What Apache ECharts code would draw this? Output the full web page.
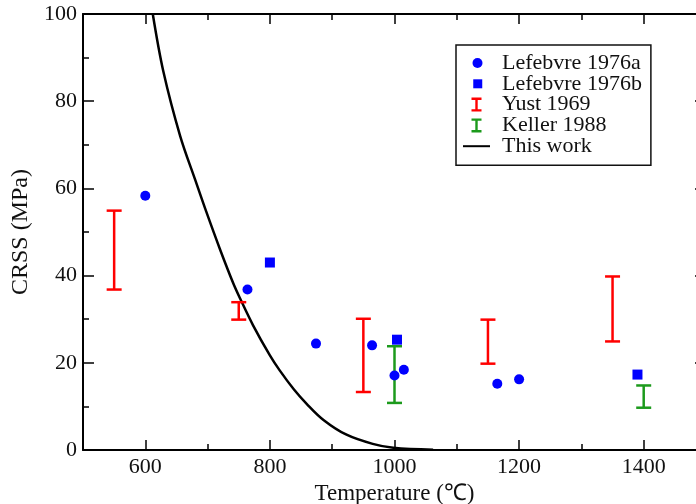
<!DOCTYPE html>
<html>
<head>
<meta charset="utf-8">
<script src="https://cdn.jsdelivr.net/npm/echarts@6/dist/echarts.min.js"></script>
<style>
  html, body { margin: 0; padding: 0; background: #fff; }
  #chart { width: 696px; height: 504px; }
</style>
</head>
<body>
<div id="chart"></div>
<script>
// Lefebvre 1976a (circles)
const lefA_T = [600, 764, 874, 964, 1000, 1015, 1165, 1200];
const lefA_V = [58.3, 36.8, 24.4, 24.0, 17.1, 18.4, 15.2, 16.2];
// Lefebvre 1976b (squares)
const lefB_T = [800, 1004, 1390];
const lefB_V = [43.0, 25.3, 17.3];
// Yust 1969 ranges
const yust_T = [550, 750, 950, 1150, 1350];
const yust_lo = [36.8, 29.9, 13.3, 19.8, 24.9];
const yust_hi = [54.9, 33.9, 30.1, 29.9, 39.8];
// Keller 1988 ranges
const keller_T = [1000, 1400];
const keller_lo = [10.8, 9.7];
const keller_hi = [23.8, 14.8];
// This work (model curve)
const curve_T = [612, 629, 656, 680, 698, 720, 741, 752, 773, 800, 816, 838, 859, 886, 923, 965, 998, 1062];
const curve_V = [100, 86.8, 72, 62, 54.6, 46, 38.3, 34.8, 28.6, 21.7, 18.2, 14.0, 10.6, 6.9, 3.5, 1.4, 0.5, 0.05];

const xMajor = [600, 800, 1000, 1200, 1400];
const xMinor = [700, 900, 1100, 1300];

const FONT = 'Liberation Serif';
const BLUE = '#0000ff', RED = '#ff0000', GREEN = '#1c9a1c';

const chart = echarts.init(document.getElementById('chart'), null, { renderer: 'canvas' });

function errorBar(params, api) {
  const x = api.value(0);
  const lo = api.coord([x, api.value(1)]);
  const hi = api.coord([x, api.value(2)]);
  const hw = 7.5;
  const style = { stroke: api.visual('color'), lineWidth: 2.5 };
  return {
    type: 'group',
    children: [
      { type: 'line', shape: { x1: lo[0], y1: lo[1], x2: hi[0], y2: hi[1] }, style },
      { type: 'line', shape: { x1: lo[0] - hw, y1: lo[1], x2: lo[0] + hw, y2: lo[1] }, style },
      { type: 'line', shape: { x1: hi[0] - hw, y1: hi[1], x2: hi[0] + hw, y2: hi[1] }, style }
    ]
  };
}

// legend icons, all in a 14-high box so sizes stay fixed
const iconDot = 'path://M0,0 M0,14 M2,7 A5,5 0 1,1 12,7 A5,5 0 1,1 2,7 Z';
const iconSquare = 'path://M0,0 M0,14 M2.5,2.5 H11.5 V11.5 H2.5 Z';
const iconBeam = 'path://M0,0 H10 V2.4 H6.2 V11.6 H10 V14 H0 V11.6 H3.8 V2.4 H0 Z';
const iconLine = 'path://M0,0 M0,14 M0,6 H27 V8 H0 Z';

const baseX = {
  type: 'value', min: 500, max: 1500, gridIndex: 0,
  splitLine: { show: false }
};
const baseY = {
  type: 'value', min: 0, max: 100, interval: 20,
  splitLine: { show: false }
};
const lineStyle = { color: '#000', width: 2 };
const tickStyle = { color: '#000', width: 1.5 };

chart.setOption({
  animation: false,
  backgroundColor: '#fff',
  textStyle: { fontFamily: FONT },
  grid: { left: 83, right: -10, top: 14, bottom: 54, containLabel: false, outerBoundsMode: 'none' },
  legend: {
    orient: 'vertical',
    left: 456, top: 45,
    padding: [7, 9, 8, 7],
    itemGap: -1.2,
    itemWidth: 27, itemHeight: 14,
    borderColor: '#111', borderWidth: 1.5,
    backgroundColor: '#fff',
    textStyle: { fontFamily: FONT, fontSize: 22, color: '#111', lineHeight: 21, padding: [0, 0, 0, 7] },
    data: [
      { name: 'Lefebvre 1976a', icon: iconDot },
      { name: 'Lefebvre 1976b', icon: iconSquare },
      { name: 'Yust 1969', icon: iconBeam },
      { name: 'Keller 1988', icon: iconBeam },
      { name: 'This work', icon: iconLine }
    ]
  },
  xAxis: [
    Object.assign({}, baseX, {
      position: 'bottom',
      name: 'Temperature (℃)', nameLocation: 'middle', nameGap: 27,
      nameTextStyle: { fontFamily: FONT, fontSize: 23, color: '#111' },
      axisLine: { show: true, lineStyle },
      axisTick: { show: true, inside: true, length: 10, lineStyle: tickStyle, customValues: xMajor },
      axisLabel: { show: true, margin: 6, fontFamily: FONT, fontSize: 22, color: '#111',
        customValues: xMajor, formatter: (v) => String(v) }
    }),
    Object.assign({}, baseX, {
      position: 'bottom',
      axisLine: { show: false },
      axisTick: { show: true, inside: true, length: 6, lineStyle: tickStyle, customValues: xMinor },
      axisLabel: { show: false }
    }),
    Object.assign({}, baseX, {
      position: 'top',
      axisLine: { show: true, lineStyle },
      axisTick: { show: true, inside: true, length: 10, lineStyle: tickStyle, customValues: xMajor },
      axisLabel: { show: false }
    }),
    Object.assign({}, baseX, {
      position: 'top',
      axisLine: { show: false },
      axisTick: { show: true, inside: true, length: 6, lineStyle: tickStyle, customValues: xMinor },
      axisLabel: { show: false }
    })
  ],
  yAxis: [
    Object.assign({}, baseY, {
      position: 'left',
      name: 'CRSS (MPa)', nameLocation: 'middle', nameGap: 40,
      nameTextStyle: { fontFamily: FONT, fontSize: 24, color: '#111' },
      axisLine: { show: true, lineStyle },
      axisTick: { show: true, inside: true, length: 11, lineStyle: tickStyle },
      minorTick: { show: true, splitNumber: 2, length: 6, lineStyle: tickStyle },
      axisLabel: { show: true, margin: 6, fontFamily: FONT, fontSize: 22, color: '#111' }
    }),
    Object.assign({}, baseY, {
      position: 'right',
      axisLine: { show: true, lineStyle },
      axisTick: { show: true, inside: true, length: 11, lineStyle: tickStyle },
      minorTick: { show: true, splitNumber: 2, length: 6, lineStyle: tickStyle },
      axisLabel: { show: false }
    })
  ],
  series: [
    {
      name: 'This work', type: 'line', smooth: 0.35, symbol: 'none',
      lineStyle: { color: '#000', width: 2.5 }, itemStyle: { color: '#000' },
      data: curve_T.map((t, i) => [t, curve_V[i]]), z: 2
    },
    {
      name: 'Yust 1969', type: 'custom', renderItem: errorBar,
      itemStyle: { color: RED },
      encode: { x: 0, y: [1, 2] },
      data: yust_T.map((t, i) => [t, yust_lo[i], yust_hi[i]]), z: 3
    },
    {
      name: 'Keller 1988', type: 'custom', renderItem: errorBar,
      itemStyle: { color: GREEN },
      encode: { x: 0, y: [1, 2] },
      data: keller_T.map((t, i) => [t, keller_lo[i], keller_hi[i]]), z: 3
    },
    {
      name: 'Lefebvre 1976a', type: 'scatter', symbol: 'circle', symbolSize: 10,
      itemStyle: { color: BLUE, opacity: 1 },
      data: lefA_T.map((t, i) => [t, lefA_V[i]]), z: 4
    },
    {
      name: 'Lefebvre 1976b', type: 'scatter', symbol: 'rect', symbolSize: 10,
      itemStyle: { color: BLUE, opacity: 1 },
      data: lefB_T.map((t, i) => [t, lefB_V[i]]), z: 4
    }
  ]
});
</script>
</body>
</html>
